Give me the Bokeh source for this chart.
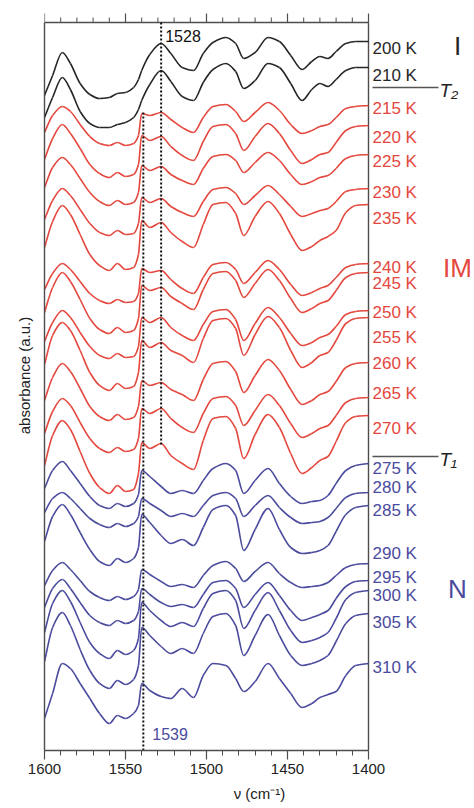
from bokeh.plotting import figure
from bokeh.models import Range1d, LinearAxis, FixedTicker
from bokeh.core.properties import value
from bokeh.embed import file_html
from bokeh.resources import INLINE

# ---------------- data ----------------
wavenumber = [1600, 1595, 1589, 1584, 1578, 1572, 1566, 1560, 1555, 1550, 1545, 1542,
              1540, 1535, 1528, 1522, 1515, 1508, 1502, 1496, 1488, 1482, 1477, 1470,
              1462, 1455, 1448, 1441, 1435, 1430, 1425, 1420, 1414, 1408, 1400]

temperatures = [200, 210, 215, 220, 225, 230, 235, 240, 245, 250, 255, 260, 265, 270,
                275, 280, 285, 290, 295, 300, 305, 310]
phase = ["I", "I"] + ["IM"] * 12 + ["N"] * 8

# absorbance profiles (relative to value at 1400 cm-1, a.u.)
s200 = [-54, -34, -11, -22, -42, -53, -57, -56, -52, -51, -46, -38, -29, -13, -2, -12, -26, -29, -12, -1, 4, -2, -17, -11, 4, 0, -14, -28, -20, -15, -17, -10, -2, 0, 0]
s210 = [-50, -30, -10, -22, -44, -56, -60, -60, -57, -55, -50, -42, -33, -17, -3, -14, -29, -33, -15, -2, 4, -4, -21, -13, 4, 0, -16, -33, -22, -16, -19, -12, -3, 0, 0]
s215 = [-27, -10, -1, -6, -19, -31, -38, -40, -37, -40, -38, -30, -8, -10, -7, -14, -22, -27, -12, -1, 1, -6, -16, -7, 3, -5, -19, -28, -25, -21, -19, -12, -3, -1, 0]
s220 = [-34, -13, 1, -8, -23, -39, -48, -52, -47, -51, -49, -39, -10, -15, -11, -21, -30, -35, -16, -1, 1, -8, -25, -11, 2, -8, -25, -38, -34, -29, -27, -17, -5, -1, 0]
s225 = [-33, -13, -3, -10, -24, -38, -47, -51, -46, -50, -48, -38, -11, -16, -12, -20, -26, -30, -14, -2, 0, -6, -18, -8, 2, -6, -20, -30, -27, -23, -21, -14, -4, -1, 0]
s230 = [-31, -12, 0, -7, -21, -35, -44, -47, -42, -46, -45, -35, -9, -14, -10, -18, -24, -28, -13, -1, 1, -5, -16, -7, 3, -6, -18, -28, -25, -22, -20, -13, -3, -1, 0]
s235 = [-43, -17, -1, -10, -30, -50, -61, -66, -59, -65, -63, -50, -16, -23, -18, -28, -37, -43, -20, 0, 2, -9, -31, -12, 3, -9, -30, -46, -42, -36, -32, -26, -8, -1, 0]
s240 = [-26, -10, 0, -6, -18, -30, -37, -40, -36, -39, -38, -30, -5, -9, -7, -16, -25, -30, -14, -1, 1, -6, -20, -9, 3, -6, -21, -32, -29, -25, -22, -14, -4, -1, 0]
s245 = [-40, -15, 0, -9, -27, -46, -57, -61, -55, -60, -58, -46, -13, -18, -15, -24, -31, -37, -17, -1, 1, -8, -25, -11, 3, -8, -26, -40, -36, -31, -28, -18, -5, -1, 0]
s250 = [-31, -12, 0, -7, -22, -36, -45, -48, -43, -47, -46, -36, -7, -12, -7, -17, -25, -30, -14, -1, 1, -9, -30, -13, 3, -7, -23, -35, -32, -27, -24, -16, -4, -1, 0]
s255 = [-47, -18, -5, -13, -33, -55, -68, -73, -66, -71, -69, -55, -23, -30, -25, -33, -38, -45, -21, -3, -1, -11, -38, -17, 1, -10, -33, -50, -45, -38, -35, -23, -6, -1, 0]
s260 = [-38, -15, -1, -9, -26, -44, -54, -58, -52, -57, -55, -44, -18, -23, -20, -27, -32, -38, -17, -1, 1, -9, -30, -13, 3, -8, -27, -42, -38, -32, -29, -19, -5, -1, 0]
s265 = [-36, -14, -1, -8, -25, -41, -51, -55, -50, -54, -52, -41, -11, -16, -11, -21, -30, -35, -16, -1, 1, -8, -28, -13, 3, -8, -26, -40, -36, -31, -28, -18, -5, -1, 0]
s270 = [-50, -20, -5, -14, -36, -58, -72, -78, -70, -76, -74, -58, -27, -33, -28, -40, -48, -54, -25, -3, -1, -13, -43, -19, 1, -12, -38, -58, -52, -45, -41, -26, -7, -1, 0]
s275 = [-25, -7, 2, -7, -20, -33, -42, -45, -40, -43, -40, -31, -7, -13, -23, -30, -27, -30, -17, -5, 0, -7, -30, -17, -5, -20, -33, -40, -38, -37, -32, -20, -7, -2, 0]
s280 = [-20, -6, 0, -6, -16, -26, -32, -35, -31, -34, -31, -24, -6, -11, -18, -24, -21, -24, -13, -3, 0, -6, -24, -13, -3, -15, -25, -31, -30, -29, -25, -16, -5, -1, 0]
s285 = [-36, -11, 1, -9, -27, -44, -56, -60, -53, -57, -53, -42, -9, -17, -30, -38, -34, -40, -22, -4, 0, -10, -45, -24, -3, -24, -42, -48, -47, -45, -40, -26, -9, -2, 0]
s290 = [-22, -7, 1, -6, -17, -28, -34, -37, -33, -36, -33, -26, -6, -11, -18, -23, -21, -24, -12, -2, 2, -5, -18, -8, 1, -10, -19, -24, -23, -22, -19, -12, -4, -1, 0]
s295 = [-27, -8, 1, -8, -22, -35, -42, -45, -40, -43, -40, -31, -8, -14, -22, -26, -24, -27, -14, -2, 0, -8, -27, -14, -2, -15, -30, -40, -37, -34, -30, -18, -6, -1, 0]
s300 = [-42, -13, 0, -11, -32, -52, -63, -68, -60, -64, -60, -48, -12, -20, -30, -36, -32, -36, -18, -3, 0, -10, -38, -20, -2, -20, -40, -52, -50, -47, -42, -28, -9, -2, 0]
s305 = [-48, -14, 1, -12, -36, -57, -70, -75, -67, -71, -66, -52, -14, -22, -33, -40, -35, -40, -20, -3, 0, -12, -42, -22, -1, -22, -42, -52, -50, -47, -42, -28, -10, -2, 0]
s310 = [-55, -30, 0, -5, -20, -35, -50, -60, -52, -55, -50, -42, -20, -27, -33, -35, -25, -34, -12, 0, -2, -15, -28, -18, 0, -15, -30, -44, -40, -34, -31, -28, -12, -2, 0]

# vertical stacking offset of each spectrum (a.u.)
offsets = [709, 683, 645, 625, 596, 562, 546, 487, 478, 440, 433, 388, 353, 335,
           287, 258, 245, 187, 170, 160, 137, 87]

marker_lines = [1528, 1539]
transitions = ["T₂", "T₁"]
phase_names = ["I", "IM", "N"]
tick_values = [1400, 1450, 1500, 1550, 1600]
minor_tick_values = [1410, 1420, 1430, 1440, 1460, 1470, 1480, 1490, 1510, 1520,
                     1530, 1540, 1560, 1570, 1580, 1590]

spectra = [s200, s210, s215, s220, s225, s230, s235, s240, s245, s250, s255, s260,
           s265, s270, s275, s280, s285, s290, s295, s300, s305, s310]

# ---------------- layout / style ----------------
W, H = 474, 808
LEFT, FRAME_TOP, BOTTOM = 44, 22, 58
PLOT_PX = 324                     # pixels for 1600 -> 1400
CM_PER_PX = 200.0 / PLOT_PX
X_END = 1600 - (W - LEFT) * CM_PER_PX
Y_BOX = H - FRAME_TOP - BOTTOM    # top of the box (1 a.u. == 1 px)
Y_MAX = H - BOTTOM


def ypx(y):
    return Y_MAX - y


def xpx(x):
    return 1600 - (x - LEFT) * CM_PER_PX


colors = {"I": "#262626", "IM": "#e4473d", "N": "#4b4b9e"}
FONT = "Liberation Sans"
AX = "#4d4d4d"
label_y_px = [48, 75, 108, 137, 161, 192, 218, 267, 283, 312, 337, 363, 393, 428,
              468, 487, 510, 553, 577, 595, 622, 667]

p = figure(width=W, height=H, output_backend="svg", toolbar_location=None,
           x_range=Range1d(1600, X_END), y_range=Range1d(0, Y_MAX),
           x_axis_location=None, y_axis_location=None,
           min_border_left=LEFT, min_border_right=0, min_border_top=0,
           min_border_bottom=BOTTOM)
p.outline_line_color = None
p.grid.visible = False
p.background_fill_color = "white"
p.border_fill_color = "white"

bottom = LinearAxis(bounds=(1400, 1600),
                    ticker=FixedTicker(ticks=tick_values, minor_ticks=minor_tick_values),
                    axis_label="ν (cm⁻¹)")
left = LinearAxis(bounds=(0, Y_BOX), ticker=FixedTicker(ticks=[]),
                  axis_label="absorbance (a.u.)")
for ax in (bottom, left):
    ax.axis_line_color = AX
    ax.axis_line_width = 1.4
    ax.major_tick_line_color = AX
    ax.minor_tick_line_color = AX
    ax.major_tick_line_width = 1.2
    ax.minor_tick_line_width = 1.0
    ax.major_tick_in = 0
    ax.major_tick_out = 9
    ax.minor_tick_in = 0
    ax.minor_tick_out = 5
    ax.major_label_text_font = FONT
    ax.major_label_text_font_size = "15px"
    ax.major_label_text_color = "#222222"
    ax.axis_label_text_font = FONT
    ax.axis_label_text_font_size = "15px"
    ax.axis_label_text_font_style = "normal"
    ax.axis_label_text_color = "#222222"
bottom.major_label_standoff = 4
bottom.axis_label_standoff = 8
left.axis_label_standoff = 12
p.add_layout(bottom, "below")
p.add_layout(left, "left")

# box: top and right edges, top ticks
p.segment(x0=[1600, 1400], y0=[Y_BOX, Y_BOX], x1=[1400, 1400], y1=[Y_BOX, 0],
          line_color=AX, line_width=1.4)
p.segment(x0=tick_values, y0=[Y_BOX] * len(tick_values), x1=tick_values,
          y1=[Y_BOX + 9] * len(tick_values), line_color=AX, line_width=1.2)
p.segment(x0=minor_tick_values, y0=[Y_BOX] * len(minor_tick_values), x1=minor_tick_values,
          y1=[Y_BOX + 5] * len(minor_tick_values), line_color=AX, line_width=1.0)


def slopes(x, y):
    n = len(x)
    d = [(y[i + 1] - y[i]) / (x[i + 1] - x[i]) for i in range(n - 1)]
    m = [d[0]] + [0.0] * (n - 2) + [d[-1]]
    for i in range(1, n - 1):
        if d[i - 1] * d[i] > 0:
            h0 = x[i] - x[i - 1]
            h1 = x[i + 1] - x[i]
            w1, w2 = 2 * h1 + h0, h1 + 2 * h0
            m[i] = (w1 + w2) / (w1 / d[i - 1] + w2 / d[i])
    return m


# spectra (smooth curves through the read points)
for t, ph, prof, off in zip(temperatures, phase, spectra, offsets):
    ys = [off + v for v in prof]
    xs = wavenumber
    m = slopes(xs, ys)
    x0, y0, x1, y1, cx0, cy0, cx1, cy1 = ([] for _ in range(8))
    for i in range(len(xs) - 1):
        h = xs[i + 1] - xs[i]
        x0.append(xs[i]); y0.append(ys[i]); x1.append(xs[i + 1]); y1.append(ys[i + 1])
        cx0.append(xs[i] + h / 3); cy0.append(ys[i] + m[i] * h / 3)
        cx1.append(xs[i + 1] - h / 3); cy1.append(ys[i + 1] - m[i + 1] * h / 3)
    p.bezier(x0=x0, y0=y0, x1=x1, y1=y1, cx0=cx0, cy0=cy0, cx1=cx1, cy1=cy1,
             line_color=colors[ph], line_width=1.6)

# dotted marker lines
p.segment(x0=[marker_lines[0]], y0=[Y_BOX], x1=[marker_lines[0]], y1=[ypx(445)],
          line_color="#111111", line_width=2, line_dash="2 2")
p.segment(x0=[marker_lines[1]], y0=[ypx(112)], x1=[marker_lines[1]], y1=[0],
          line_color="#111111", line_width=2, line_dash="2 2")
p.text(x=[marker_lines[0] - 2.5], y=[ypx(35)], text=[str(marker_lines[0])],
       text_font=value(FONT), text_font_size="16px", text_color="#111111",
       text_baseline="middle", text_align="left")
p.text(x=[marker_lines[1] - 5.5], y=[ypx(733)], text=[str(marker_lines[1])],
       text_font=value(FONT), text_font_size="16px", text_color=colors["N"],
       text_baseline="middle", text_align="left")

# temperature labels
for t, ph, ly in zip(temperatures, phase, label_y_px):
    p.text(x=[xpx(372)], y=[ypx(ly)], text=[f"{t} K"], text_font=value(FONT),
           text_font_size="17px", text_color=colors[ph],
           text_baseline="middle", text_align="left")

# transition temperature markers
for lab, yy in zip(transitions, [87, 456]):
    p.segment(x0=[xpx(372)], y0=[ypx(yy)], x1=[xpx(438)], y1=[ypx(yy)],
              line_color="#555555", line_width=1.4)
    p.text(x=[xpx(439)], y=[ypx(yy + 3)], text=[lab], text_font=value(FONT),
           text_font_size="19px", text_font_style="italic", text_color="#222222",
           text_baseline="middle", text_align="left")

# phase names
for name, yy in zip(phase_names, [45, 267, 588]):
    p.text(x=[xpx(457)], y=[ypx(yy)], text=[name], text_font=value(FONT),
           text_font_size="26px", text_color=colors[name],
           text_baseline="middle", text_align="center")

open("out.html", "w").write(file_html(p, INLINE))
